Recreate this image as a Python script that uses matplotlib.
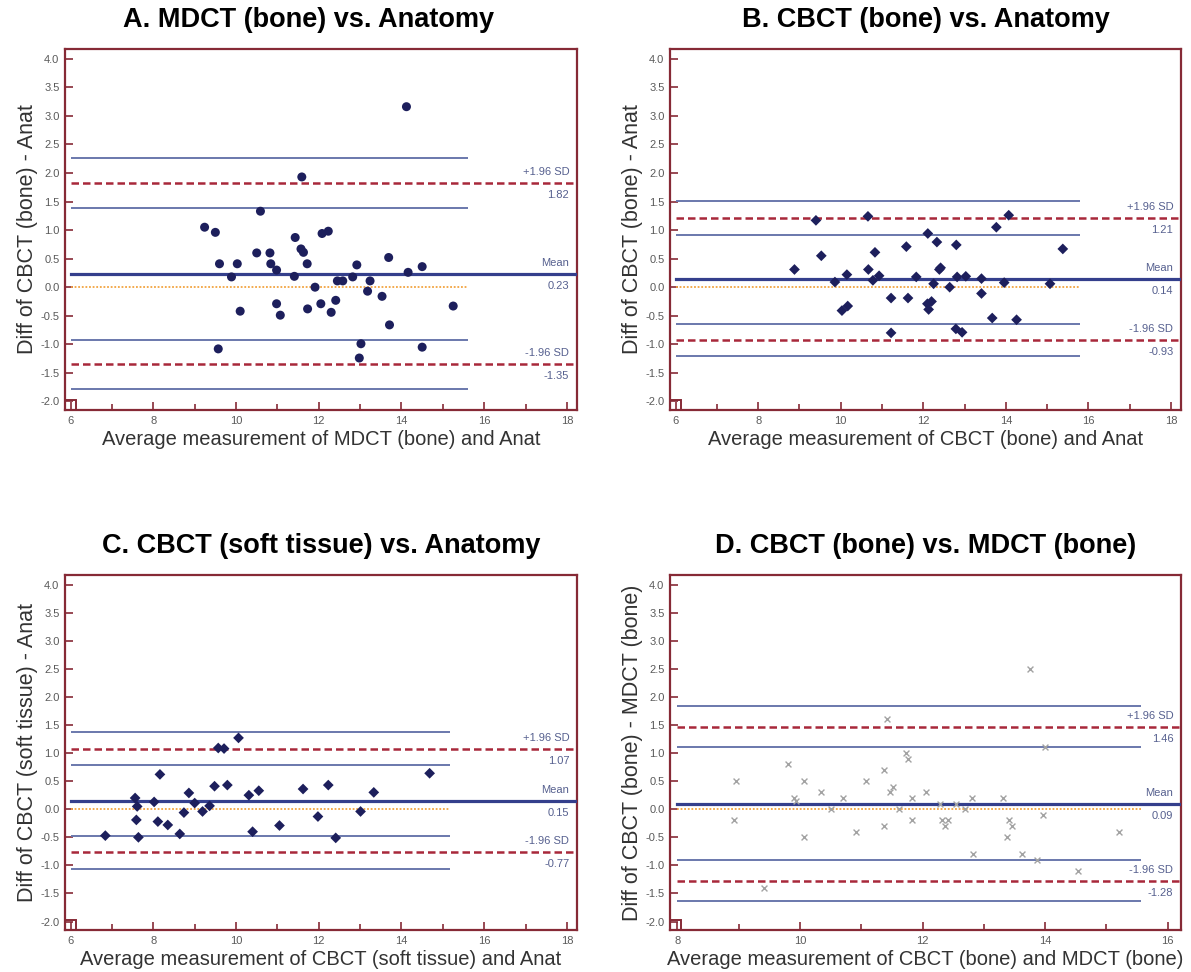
import numpy as np
import matplotlib
matplotlib.use("Agg")
import matplotlib.pyplot as plt
import matplotlib.transforms as mtransforms
from matplotlib.patches import Rectangle

plt.rcParams['font.family'] = ['Liberation Sans', 'DejaVu Sans']
plt.rcParams['axes.unicode_minus'] = False

# --- A. MDCT (bone) vs. Anatomy ---
a_avg = [14.12, 11.59, 10.59, 9.24, 9.50, 9.60, 10.03, 9.89, 10.50, 10.82,
         10.84, 10.98, 11.43, 11.57, 11.63, 11.72, 11.41, 12.08, 12.23, 11.91,
         12.45, 12.58, 12.82, 12.92, 13.24, 13.18, 13.53, 13.69, 14.16, 14.50,
         15.25, 13.71, 14.50, 13.02, 12.98, 9.57, 10.10, 10.98, 11.07, 11.73,
         12.05, 12.30, 12.41]
a_diff = [3.16, 1.93, 1.33, 1.05, 0.96, 0.41, 0.41, 0.18, 0.60, 0.60,
          0.41, 0.30, 0.87, 0.67, 0.61, 0.41, 0.19, 0.94, 0.98, 0.00,
          0.11, 0.11, 0.18, 0.39, 0.11, -0.07, -0.16, 0.52, 0.26, 0.36,
          -0.33, -0.66, -1.05, -0.99, -1.24, -1.08, -0.42, -0.29, -0.49, -0.38,
          -0.29, -0.44, -0.23]
a_limits = [1.82, 0.23, -1.35]          # +1.96 SD, mean, -1.96 SD
a_ci = [2.26, 1.39, -0.92, -1.78]       # confidence bands of the limits
a_line_end = 15.6

# --- B. CBCT (bone) vs. Anatomy ---
b_avg = [8.88, 9.40, 9.53, 9.86, 10.03, 10.17, 10.15, 10.66, 10.67, 10.78,
         10.83, 10.93, 11.22, 11.22, 11.59, 11.63, 11.83, 12.11, 12.10, 12.13,
         12.20, 12.25, 12.33, 12.39, 12.42, 12.64, 12.80, 12.82, 13.03, 12.79,
         12.94, 13.41, 13.41, 13.67, 13.77, 13.96, 14.07, 14.26, 15.07, 15.38]
b_diff = [0.31, 1.17, 0.55, 0.09, -0.41, -0.33, 0.22, 1.24, 0.31, 0.12,
          0.61, 0.20, -0.19, -0.80, 0.71, -0.19, 0.18, 0.94, -0.29, -0.39,
          -0.25, 0.06, 0.79, 0.31, 0.34, 0.00, 0.74, 0.18, 0.19, -0.73,
          -0.79, -0.11, 0.15, -0.54, 1.05, 0.08, 1.26, -0.57, 0.06, 0.67]
b_limits = [1.21, 0.14, -0.93]
b_ci = [1.51, 0.92, -0.64, -1.21]
b_line_end = 15.8

# --- C. CBCT (soft tissue) vs. Anatomy ---
c_avg = [6.84, 7.56, 7.61, 7.59, 7.64, 8.02, 8.16, 8.11, 8.35, 8.64,
         8.74, 8.86, 9.00, 9.19, 9.36, 9.48, 9.57, 9.71, 9.79, 10.06,
         10.31, 10.40, 10.55, 11.05, 11.62, 11.98, 12.23, 12.41, 13.01, 13.33,
         14.68]
c_diff = [-0.47, 0.20, 0.05, -0.19, -0.50, 0.13, 0.62, -0.22, -0.28, -0.44,
          -0.06, 0.29, 0.11, -0.04, 0.06, 0.41, 1.09, 1.08, 0.43, 1.27,
          0.25, -0.40, 0.33, -0.29, 0.36, -0.13, 0.43, -0.51, -0.04, 0.30,
          0.64]
c_limits = [1.07, 0.15, -0.77]
c_ci = [1.37, 0.78, -0.47, -1.06]
c_line_end = 15.17

# --- D. CBCT (bone) vs. MDCT (bone) ---
d_avg = [8.92, 8.96, 9.41, 9.81, 9.91, 9.94, 10.06, 10.06, 10.35, 10.51,
         10.70, 10.92, 11.07, 11.37, 11.37, 11.42, 11.47, 11.51, 11.61, 11.73,
         11.77, 11.82, 11.82, 12.06, 12.29, 12.32, 12.37, 12.41, 12.54, 12.69,
         12.81, 12.82, 13.32, 13.37, 13.41, 13.46, 13.62, 13.76, 13.86, 13.96,
         14.00, 14.53, 15.20]
d_diff = [-0.20, 0.50, -1.40, 0.80, 0.20, 0.14, 0.50, -0.50, 0.30, 0.00,
          0.20, -0.40, 0.50, 0.70, -0.30, 1.60, 0.30, 0.40, 0.00, 1.00,
          0.90, 0.20, -0.20, 0.30, 0.10, -0.20, -0.30, -0.20, 0.10, 0.00,
          0.20, -0.80, 0.20, -0.50, -0.20, -0.30, -0.80, 2.50, -0.90, -0.10,
          1.10, -1.10, -0.40]
d_limits = [1.46, 0.09, -1.28]
d_ci = [1.84, 1.10, -0.91, -1.64]
d_line_end = 15.57

FRAME = '#862a36'
CI_COLOR = '#6a78ac'
MEAN_COLOR = '#343f8c'
SD_COLOR = '#a8283a'
ZERO_COLOR = '#f2a440'
LABEL_COLOR = '#56608f'


def bland_altman(ax, avg, diff, limits, ci, line_end, xstart, xstop,
                 title, xlabel, ylabel, marker, mcolor, msize, title_x=0.5):
    upper, mean, lower = limits
    pad = 0.135 if xstop - xstart > 10 else 0.12
    ax.set_xlim(xstart - pad, xstop + 1.8 * pad)
    ax.set_ylim(-2.15, 4.17)
    xr = ax.get_xlim()[1]

    ax.hlines(ci, xstart, line_end, color=CI_COLOR, lw=1.4, zorder=2)
    ax.hlines(0, xstart, line_end, color=ZERO_COLOR, lw=1.3,
              linestyles=(0, (1, 1)), zorder=2)
    ax.plot([xstart, xr], [mean, mean], color=MEAN_COLOR, lw=2.3, zorder=3)
    for v in (upper, lower):
        ax.plot([xstart, xr], [v, v], color=SD_COLOR, lw=1.8,
                ls=(0, (3, 1.6)), zorder=3)

    if marker == 'x':
        ax.scatter(avg, diff, marker='x', s=msize, color=mcolor,
                   linewidths=1.0, zorder=5)
    else:
        ax.scatter(avg, diff, marker=marker, s=msize, color=mcolor,
                   edgecolors='none', zorder=5)

    # limit labels at the right edge
    trans = mtransforms.blended_transform_factory(ax.transAxes, ax.transData)
    for name, v in (('+1.96 SD', upper), ('Mean', mean), ('-1.96 SD', lower)):
        ax.text(0.985, v + 0.2, name, ha='right', va='center', fontsize=8,
                color=LABEL_COLOR, transform=trans)
        ax.text(0.985, v - 0.21, f'{v:.2f}', ha='right', va='center',
                fontsize=8, color=LABEL_COLOR, transform=trans)

    ax.set_xticks(np.arange(xstart, xstop + 1, 2))
    ax.set_xticks(np.arange(xstart + 1, xstop, 2), minor=True)
    yt = np.arange(-2.0, 4.01, 0.5)
    ax.set_yticks(yt)
    ax.set_yticklabels([f'{t:.1f}' for t in yt])
    ax.tick_params(which='both', direction='in', color=FRAME, width=1.2,
                   labelsize=8, labelcolor='#5a5a5a', pad=4)
    ax.tick_params(which='major', length=6)
    ax.tick_params(which='minor', length=4)

    for sp in ax.spines.values():
        sp.set_color(FRAME)
        sp.set_linewidth(1.6)
    # small origin box in the lower-left corner
    ax.add_patch(Rectangle((0, 0), 0.022, 0.028, transform=ax.transAxes,
                           fill=False, edgecolor=FRAME, lw=1.4, zorder=6))

    ax.set_title(title, fontsize=19.5, fontweight='bold', pad=16, x=title_x)
    ax.set_xlabel(xlabel, fontsize=14.5, color='#333333', labelpad=3)
    ax.set_ylabel(ylabel, fontsize=15.5, color='#333333', labelpad=2)


fig = plt.figure(figsize=(11.91, 9.72), dpi=100)
W, H = 1191, 972


def add_panel(left, top, right, bottom):
    return fig.add_axes([left / W, 1 - bottom / H, (right - left) / W,
                         (bottom - top) / H])


ax_a = add_panel(65, 49, 577, 410)
ax_b = add_panel(670, 49, 1181, 410)
ax_c = add_panel(65, 575, 577, 930)
ax_d = add_panel(670, 575, 1181, 930)

bland_altman(ax_a, a_avg, a_diff, a_limits, a_ci, a_line_end, 6, 18,
             'A. MDCT (bone) vs. Anatomy',
             'Average measurement of MDCT (bone) and Anat',
             'Diff of CBCT (bone) - Anat', 'o', '#1d1f5c', 42, title_x=0.475)
bland_altman(ax_b, b_avg, b_diff, b_limits, b_ci, b_line_end, 6, 18,
             'B. CBCT (bone) vs. Anatomy',
             'Average measurement of CBCT (bone) and Anat',
             'Diff of CBCT (bone) - Anat', 'D', '#1d1f5c', 30)
bland_altman(ax_c, c_avg, c_diff, c_limits, c_ci, c_line_end, 6, 18,
             'C. CBCT (soft tissue) vs. Anatomy',
             'Average measurement of CBCT (soft tissue) and Anat',
             'Diff of CBCT (soft tissue) - Anat', 'D', '#1d1f5c', 30)
bland_altman(ax_d, d_avg, d_diff, d_limits, d_ci, d_line_end, 8, 16,
             'D. CBCT (bone) vs. MDCT (bone)',
             'Average measurement of CBCT (bone) and MDCT (bone)',
             'Diff of CBCT (bone) - MDCT (bone)', 'x', '#a2a2a2', 18)

fig.savefig('out.png', dpi=100)
